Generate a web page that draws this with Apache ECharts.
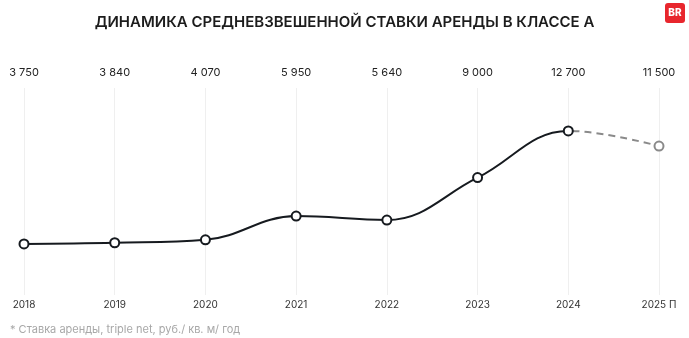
<!DOCTYPE html>
<html>
<head>
<meta charset="utf-8">
<style>
  html, body { margin: 0; padding: 0; background: #fff; }
  #chart { width: 689px; height: 338px; }
</style>
<script src="https://cdn.jsdelivr.net/npm/echarts@6/dist/echarts.min.js"></script>
</head>
<body>
<div id="chart"></div>
<script>
// Weighted average class A rent, RUB per sq. m per year
const years = ['2018', '2019', '2020', '2021', '2022', '2023', '2024', '2025 П'];
const rentValues = [3750, 3840, 4070, 5950, 5640, 9000, 12700, 11500];
const lastActualIndex = 6; // 2024 is the last reported year; 2025 is a forecast

const titleText = 'ДИНАМИКА СРЕДНЕВЗВЕШЕННОЙ СТАВКИ АРЕНДЫ В КЛАССЕ А';
const noteText = '* Ставка аренды, triple net, руб./ кв. м/ год';

const fontFamily = 'Inter, "Noto Sans", sans-serif';
const smoothness = 0.4;

function formatValue(v) {
  return String(v).replace(/\B(?=(\d{3})+(?!\d))/g, ' ');
}

const lastIndex = rentValues.length - 1;

// Solid line runs through the whole series so the curve is one continuous spline;
// its stroke fades out after the last reported year.
const actualData = rentValues.map((v, i) =>
  i <= lastActualIndex ? v : { value: v, symbol: 'none' }
);
const actualCut = lastActualIndex / lastIndex;

// Dashed forecast starts one point earlier so its curve shares the same tangent.
const forecastStart = lastActualIndex - 1;
const forecastData = rentValues.map((v, i) => {
  if (i < forecastStart) return null;
  if (i < lastIndex) return { value: v, symbol: 'none' };
  return v;
});
const forecastCut = (lastActualIndex - forecastStart) / (lastIndex - forecastStart);

function splitStroke(cut, before, after) {
  return new echarts.graphic.LinearGradient(0, 0, 1, 0, [
    { offset: 0, color: before },
    { offset: cut, color: before },
    { offset: cut, color: after },
    { offset: 1, color: after }
  ]);
}

const chart = echarts.init(document.getElementById('chart'));
chart.setOption({
  animation: false,
  backgroundColor: '#ffffff',
  textStyle: { fontFamily },
  title: {
    text: titleText,
    left: 'center',
    top: 10,
    textStyle: { fontFamily, fontSize: 15, fontWeight: 600, color: '#1c1c1c' }
  },
  grid: { left: 24, right: 30, top: 88, bottom: 43 },
  xAxis: [
    {
      type: 'category',
      data: years,
      boundaryGap: false,
      position: 'bottom',
      axisLine: { show: false },
      axisTick: { show: false },
      axisLabel: { color: '#333', fontSize: 10, margin: 5, fontFamily },
      splitLine: { show: true, lineStyle: { color: '#efefef', width: 1 } }
    },
    {
      type: 'category',
      data: years,
      boundaryGap: false,
      position: 'top',
      axisLine: { show: false },
      axisTick: { show: false },
      axisLabel: {
        color: '#222',
        fontSize: 11,
        margin: 10,
        fontFamily,
        formatter: (val, idx) => formatValue(rentValues[idx])
      },
      splitLine: { show: false }
    }
  ],
  yAxis: {
    type: 'value',
    min: -300,
    max: 16100,
    show: false,
    splitLine: { show: false }
  },
  series: [
    {
      type: 'line',
      data: forecastData,
      smooth: smoothness,
      z: 2,
      symbol: 'circle',
      symbolSize: 9,
      itemStyle: { color: '#ffffff', borderColor: '#8a8a8a', borderWidth: 2 },
      lineStyle: {
        color: splitStroke(forecastCut, 'rgba(138,138,138,0)', '#8a8a8a'),
        width: 2,
        type: [7, 5]
      }
    },
    {
      type: 'line',
      data: actualData,
      smooth: smoothness,
      z: 3,
      symbol: 'circle',
      symbolSize: 9,
      itemStyle: { color: '#ffffff', borderColor: '#161a1f', borderWidth: 2 },
      lineStyle: {
        color: splitStroke(actualCut, '#161a1f', 'rgba(22,26,31,0)'),
        width: 2
      }
    }
  ],
  graphic: [
    {
      type: 'text',
      left: 10,
      top: 324,
      style: { text: noteText, fill: '#a8a8a8', fontSize: 11, fontFamily }
    },
    {
      type: 'group',
      left: 665,
      top: 3,
      children: [
        {
          type: 'rect',
          shape: { x: 0, y: 0, width: 20, height: 20, r: 3 },
          style: { fill: '#e8262d' }
        },
        {
          type: 'text',
          x: 10,
          y: 10,
          style: {
            text: 'BR',
            fill: '#ffffff',
            fontSize: 10,
            fontWeight: 800,
            fontFamily,
            align: 'center',
            verticalAlign: 'middle'
          }
        }
      ]
    }
  ]
});
</script>
</body>
</html>
